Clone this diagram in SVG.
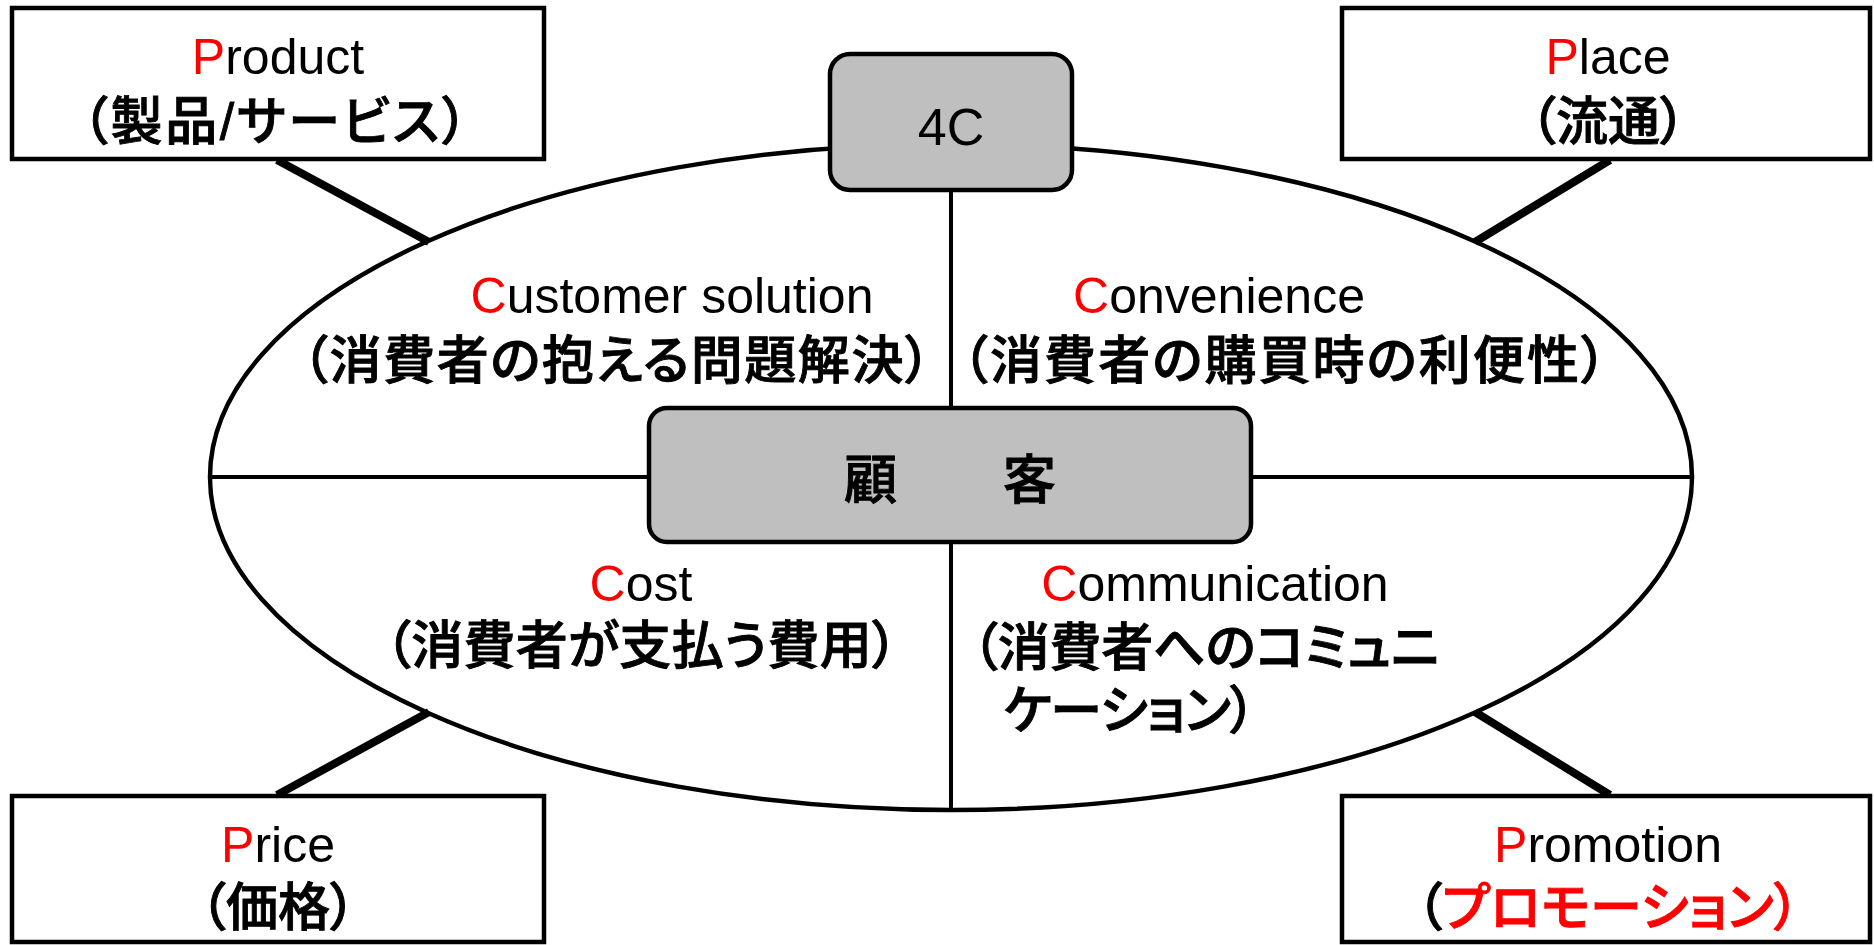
<svg xmlns="http://www.w3.org/2000/svg" width="1874" height="945" viewBox="0 0 1874 945">
<style>
.bg{fill:#FFFFFF}
.box{fill:#FFFFFF;stroke:#000;stroke-width:4.5}
.gbox{fill:#BFBFBF;stroke:#000;stroke-width:4.5}
.ell{fill:#FFFFFF;stroke:#000;stroke-width:4.5}
.div{stroke:#000;stroke-width:4;fill:none}
.con{stroke:#000;stroke-width:8;fill:none}
text{font-family:"Liberation Sans","Noto Sans CJK JP",sans-serif;font-size:50px;fill:#000}
.jp{font-size:52px;font-weight:500;font-feature-settings:"palt";stroke:#000;stroke-width:0.9}
.mid{text-anchor:middle}
.red{fill:#FF0000}
.jp .red{stroke:#FF0000}
</style>
<rect class="bg" x="0" y="0" width="1874" height="945"/>
<g id="ellipse">
<ellipse class="ell" cx="951" cy="477" rx="741" ry="333"/>
</g>
<g id="connectors">
<line class="div" x1="210" y1="477" x2="1692" y2="477"/>
<line class="div" x1="951" y1="190" x2="951" y2="810"/>
<line class="con" x1="277" y1="160" x2="429" y2="242"/>
<line class="con" x1="1610" y1="160" x2="1475" y2="242"/>
<line class="con" x1="277" y1="795" x2="429" y2="712"/>
<line class="con" x1="1610" y1="795" x2="1475" y2="712"/>
</g>
<g id="product">
<rect class="box" x="12" y="8" width="532" height="151"/>
<text class="mid" x="278" y="74"><tspan class="red">P</tspan>roduct</text>
<text class="mid jp" x="275" y="140" textLength="386" lengthAdjust="spacing">（製品/サービス）</text>
</g>
<g id="place">
<rect class="box" x="1342" y="8" width="528" height="151"/>
<text class="mid" x="1608" y="74"><tspan class="red">P</tspan>lace</text>
<text class="mid jp" x="1608" y="140">（流通）</text>
</g>
<g id="price">
<rect class="box" x="12" y="796" width="532" height="146"/>
<text class="mid" x="278" y="862"><tspan class="red">P</tspan>rice</text>
<text class="mid jp" x="278" y="926">（価格）</text>
</g>
<g id="promotion">
<rect class="box" x="1342" y="796" width="528" height="146"/>
<text class="mid" x="1608" y="862"><tspan class="red">P</tspan>romotion</text>
<text class="mid jp" x="1608" y="926">（<tspan class="red">プロモーション）</tspan></text>
</g>
<g id="four-c">
<rect class="gbox" x="830" y="54" width="242" height="136" rx="20" ry="20"/>
<text class="mid" x="951" y="145" style="font-size:52px">4C</text>
</g>
<g id="customer">
<rect class="gbox" x="649" y="408" width="602" height="134" rx="18" ry="18"/>
<text class="mid jp" x="950" y="499" style="font-size:53px">顧　　客</text>
</g>
<g id="customer-solution">
<text class="mid" x="672" y="313"><tspan class="red">C</tspan>ustomer solution</text>
<text class="jp" x="302" y="379" textLength="629" lengthAdjust="spacing">（消費者の抱える問題解決）</text>
</g>
<g id="convenience">
<text class="mid" x="1219" y="313"><tspan class="red">C</tspan>onvenience</text>
<text class="jp" x="962" y="379" textLength="645" lengthAdjust="spacing">（消費者の購買時の利便性）</text>
</g>
<g id="cost">
<text class="mid" x="641" y="601"><tspan class="red">C</tspan>ost</text>
<text class="jp" x="385" y="664" textLength="513" lengthAdjust="spacing">（消費者が支払う費用）</text>
</g>
<g id="communication">
<text class="mid" x="1215" y="601"><tspan class="red">C</tspan>ommunication</text>
<text class="jp" x="972" y="666" textLength="467" lengthAdjust="spacing">（消費者へのコミュニ</text>
<text class="jp" x="1003" y="729" textLength="253" lengthAdjust="spacing">ケーション）</text>
</g>
</svg>
